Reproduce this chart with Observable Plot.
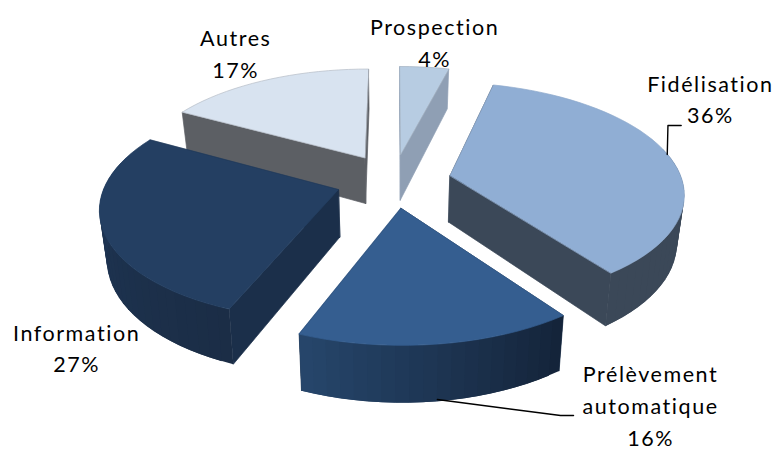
<!DOCTYPE html>
<html><head><meta charset="utf-8">
<style>
html,body{margin:0;padding:0;background:#fff}
svg text{letter-spacing:1.55px}
</style>
<script src="https://cdn.jsdelivr.net/npm/d3@7"></script>
<script src="https://cdn.jsdelivr.net/npm/@observablehq/plot@0.6"></script>
</head><body>
<div id="chart"></div>
<script>
// Data, clockwise from the top of the pie
const categories = ["Prospection","Fidélisation","Prélèvement\nautomatique","Information","Autres"];
const shares = [4,36,16,27,17];

// Styles per slice
const topColors   = ["#b7cce2","#90aed4","#355e90","#243f62","#d8e3f0"];
const topEdges    = ["#a4b2c2","#8ea9cb","#355e90","#243f62","#b4bcc6"];
const cutColors   = ["#8f9fb4","#3b4858","#1a2e47","#1b2f4a","#5c5f64"];
const arcStart    = ["#8f9fb4","#3b4858","#14243a","#1b2d46","#5c5f64"];
const arcEnd      = ["#8f9fb4","#3b4858","#27476d","#1f3859","#5c5f64"];
const drawOrder   = [0,4,1,3,2]; // back to front

// View of the pie
const explode = 0.25, perspective = 0.146, depth = 0.435, shrink = 0.975;
const project = (X, Y, low) => {
  const d = 1 + perspective * Y;
  return {x: (low ? shrink : 1) * X / d, y: Y / d - (low ? depth / d : 0)};
};

// Label placement in the pie's view units
const labelU = [0.177, 1.366, 1.108, -1.366, -0.68];
const labelV = [1.295, 0.771, -2.07, -1.535, 1.19];
const leaderFidU = [1.180, 1.183, 1.240], leaderFidV = [0.241, 0.509, 0.509];
const leaderPreU = [0.189, 0.720, 0.776], leaderPreV = [-2.028, -2.176, -2.176];

const total = d3.sum(shares);
let acc = 0;
const faces = [];
const faceOf = (id, pts, fill, stroke) => pts.forEach(p => faces.push({id, ...p, fill, stroke}));

const slices = shares.map(s => {
  const a0 = acc / total * 2 * Math.PI; acc += s;
  const a1 = acc / total * 2 * Math.PI;
  return {a0, a1};
});

drawOrder.forEach(i => {
  const {a0, a1} = slices[i], mid = (a0 + a1) / 2;
  const ox = explode * Math.sin(mid), oy = explode * Math.cos(mid);
  const pt = a => [ox + Math.sin(a), oy + Math.cos(a)];
  const n = Math.max(4, Math.round((a1 - a0) / 0.05));
  const angles = d3.range(n + 1).map(k => a0 + (a1 - a0) * k / n);
  const colorAt = d3.interpolateRgb(arcStart[i], arcEnd[i]);

  // the two cut walls, the farther one first
  const cuts = [a0, a1].sort((p, q) => Math.cos(q) - Math.cos(p));
  cuts.forEach((a, k) => faceOf(`c${i}-${k}`, [
    project(ox, oy, false), project(...pt(a), false),
    project(...pt(a), true), project(ox, oy, true)
  ], cutColors[i], cutColors[i]));

  // the outer wall: bands that overlap so no seam shows
  const visible = d3.range(n).filter(k => Math.cos((angles[k] + angles[k + 1]) / 2) < 0.25);
  visible.forEach(k => {
    const end = angles[Math.min(k + 2, n)];
    faceOf(`a${i}-${k}`, [
      project(...pt(angles[k]), false), project(...pt(end), false),
      project(...pt(end), true), project(...pt(angles[k]), true)
    ], colorAt(k / n), "none");
  });

  faceOf(`t${i}`, [[ox, oy], ...angles.map(pt)].map(p => project(...p, false)), topColors[i], topEdges[i]);
});

const labels = categories.map((c, i) => ({
  text: `${c}\n${shares[i]}%`, u: labelU[i], v: labelV[i]
}));
const leaderA = leaderFidU.map((u, i) => ({u, v: leaderFidV[i], id: "a"}));
const leaderB = leaderPreU.map((u, i) => ({u, v: leaderPreV[i], id: "b"}));

const cx = 393, cy = 180, k = 232, m = 108;
const chart = Plot.plot({
  width: 778, height: 452,
  margin: 0,
  x: {domain: [-1, 1], range: [cx - k, cx + k], axis: null},
  y: {domain: [-1, 1], range: [cy + m, cy - m], axis: null},
  color: {type: "identity"},
  style: {background: "#fff", overflow: "visible"},
  marks: [
    Plot.line(faces, {x: "x", y: "y", z: "id", fill: "fill", stroke: "stroke",
      strokeWidth: 0.7, curve: "linear-closed"}),
    Plot.line([...leaderA, ...leaderB], {x: "u", y: "v", z: "id", stroke: "#000", strokeWidth: 1.4}),
    Plot.text(labels, {x: "u", y: "v", text: "text", fontSize: 21.5, lineHeight: 1.48,
      fontFamily: "Lato", fill: "#000"})
  ]
});
document.getElementById("chart").append(chart);
</script>
</body></html>
